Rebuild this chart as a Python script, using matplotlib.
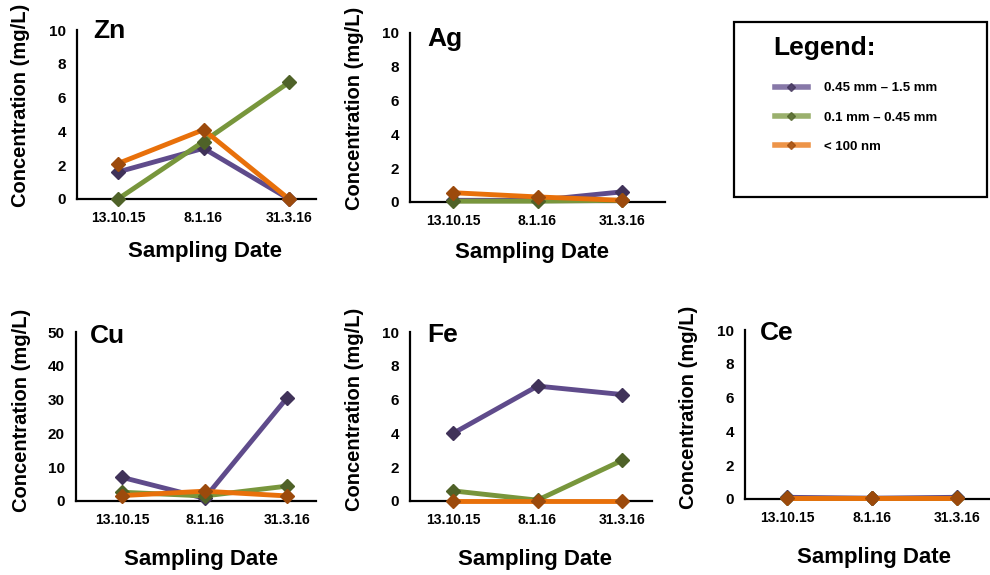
import matplotlib
matplotlib.use("Agg")
import matplotlib.pyplot as plt
from matplotlib.lines import Line2D
from matplotlib.patches import Rectangle

plt.rcParams['font.family'] = ['Liberation Sans', 'DejaVu Sans']
plt.rcParams['font.weight'] = 'bold'

# data (mg/L)
dates = ['13.10.15', '8.1.16', '31.3.16']
fractions = ['0.45 mm – 1.5 mm', '0.1 mm – 0.45 mm', '< 100 nm']

zn_large = [1.6, 3.0, 0.0]
zn_mid = [0.0, 3.4, 6.9]
zn_nano = [2.1, 4.1, 0.0]

ag_large = [0.1, 0.1, 0.6]
ag_mid = [0.05, 0.05, 0.1]
ag_nano = [0.55, 0.3, 0.1]

cu_large = [7.0, 0.8, 30.5]
cu_mid = [2.6, 1.5, 4.4]
cu_nano = [1.6, 2.9, 1.5]

fe_large = [4.0, 6.8, 6.3]
fe_mid = [0.6, 0.05, 2.4]
fe_nano = [0.0, 0.0, 0.0]

ce_large = [0.1, 0.05, 0.1]
ce_mid = [0.05, 0.05, 0.05]
ce_nano = [0.05, 0.05, 0.05]

line_colors = ['#5F4B8B', '#78963C', '#E8700A']
marker_colors = ['#403259', '#4F6228', '#9C4A0C']

W, H = 990, 575


def fx(x):
    return x / W


def fy(y):
    return 1 - y / H


fig = plt.figure(figsize=(W / 100, H / 100), dpi=100)

# name, series, y max, y step, axes box in px (left, top, right, bottom),
# px of first/last category, title baseline, y label centre, x label baseline
panels = [
    ('Zn', [zn_large, zn_mid, zn_nano], 10, 2, (77, 30, 316, 199), (118, 289), (93, 38), (21, 105), (205, 257)),
    ('Ag', [ag_large, ag_mid, ag_nano], 10, 2, (410, 33, 665, 202), (453, 622), (427, 46), (354, 108), (532, 258)),
    ('Cu', [cu_large, cu_mid, cu_nano], 50, 10, (76, 332, 316, 501), (122, 287), (90, 343), (22, 410), (201, 565)),
    ('Fe', [fe_large, fe_mid, fe_nano], 10, 2, (410, 332, 652, 501), (453, 622), (427, 342), (354, 409), (535, 565)),
    ('Ce', [ce_large, ce_mid, ce_nano], 10, 2, (745, 330, 990, 499), (787, 957), (760, 340), (689, 407), (874, 563)),
]

x = list(range(len(dates)))

for name, series, ymax, ystep, box, cats, tpos, ylpos, xlpos in panels:
    left, top, right, bottom = box
    ax = fig.add_axes([fx(left), fy(bottom), (right - left) / W, (bottom - top) / H])
    step = (cats[1] - cats[0]) / 2
    ax.set_xlim(-(cats[0] - left) / step, 2 + (right - cats[1]) / step)
    ax.set_ylim(0, ymax)

    for vals, lc, mc in zip(series, line_colors, marker_colors):
        ax.plot(x, vals, color=lc, lw=3.5, marker='D', markersize=7,
                markerfacecolor=mc, markeredgecolor=mc, clip_on=False, zorder=3)

    ax.set_xticks(x)
    ax.set_xticklabels(dates)
    ax.set_yticks(range(0, ymax + 1, ystep))
    ax.tick_params(axis='x', length=0, pad=9, labelsize=10)
    ax.tick_params(axis='y', length=0, pad=8, labelsize=11)
    for s in ['top', 'right']:
        ax.spines[s].set_visible(False)
    for s in ['left', 'bottom']:
        ax.spines[s].set_linewidth(1.6)
    ax.patch.set_alpha(0)

    fig.text(fx(tpos[0]), fy(tpos[1]), name, fontsize=19, fontweight='bold', va='baseline')
    fig.text(fx(ylpos[0]), fy(ylpos[1]), 'Concentration (mg/L)', fontsize=14.5,
             fontweight='bold', rotation=90, ha='center', va='center')
    fig.text(fx(xlpos[0]), fy(xlpos[1]), 'Sampling Date', fontsize=16,
             fontweight='bold', ha='center', va='baseline')

# legend box
fig.add_artist(Rectangle((fx(734), fy(197)), (987 - 734) / W, (197 - 22) / H,
                         transform=fig.transFigure, fill=False, lw=1.6, ec='black'))
fig.text(fx(773), fy(55), 'Legend:', fontsize=19, fontweight='bold', va='baseline')
handles = [Line2D([], [], color=lc, lw=4, alpha=0.75, marker='D', markersize=4,
                  markerfacecolor=mc, markeredgecolor=mc)
           for lc, mc in zip(line_colors, marker_colors)]
fig.legend(handles, fractions, loc='upper left', bbox_to_anchor=(fx(775), fy(82)),
           frameon=False, fontsize=9.5, handlelength=2.5, handletextpad=1.25,
           labelspacing=1.3, borderpad=0, borderaxespad=0)

fig.savefig('out.png', dpi=100)
